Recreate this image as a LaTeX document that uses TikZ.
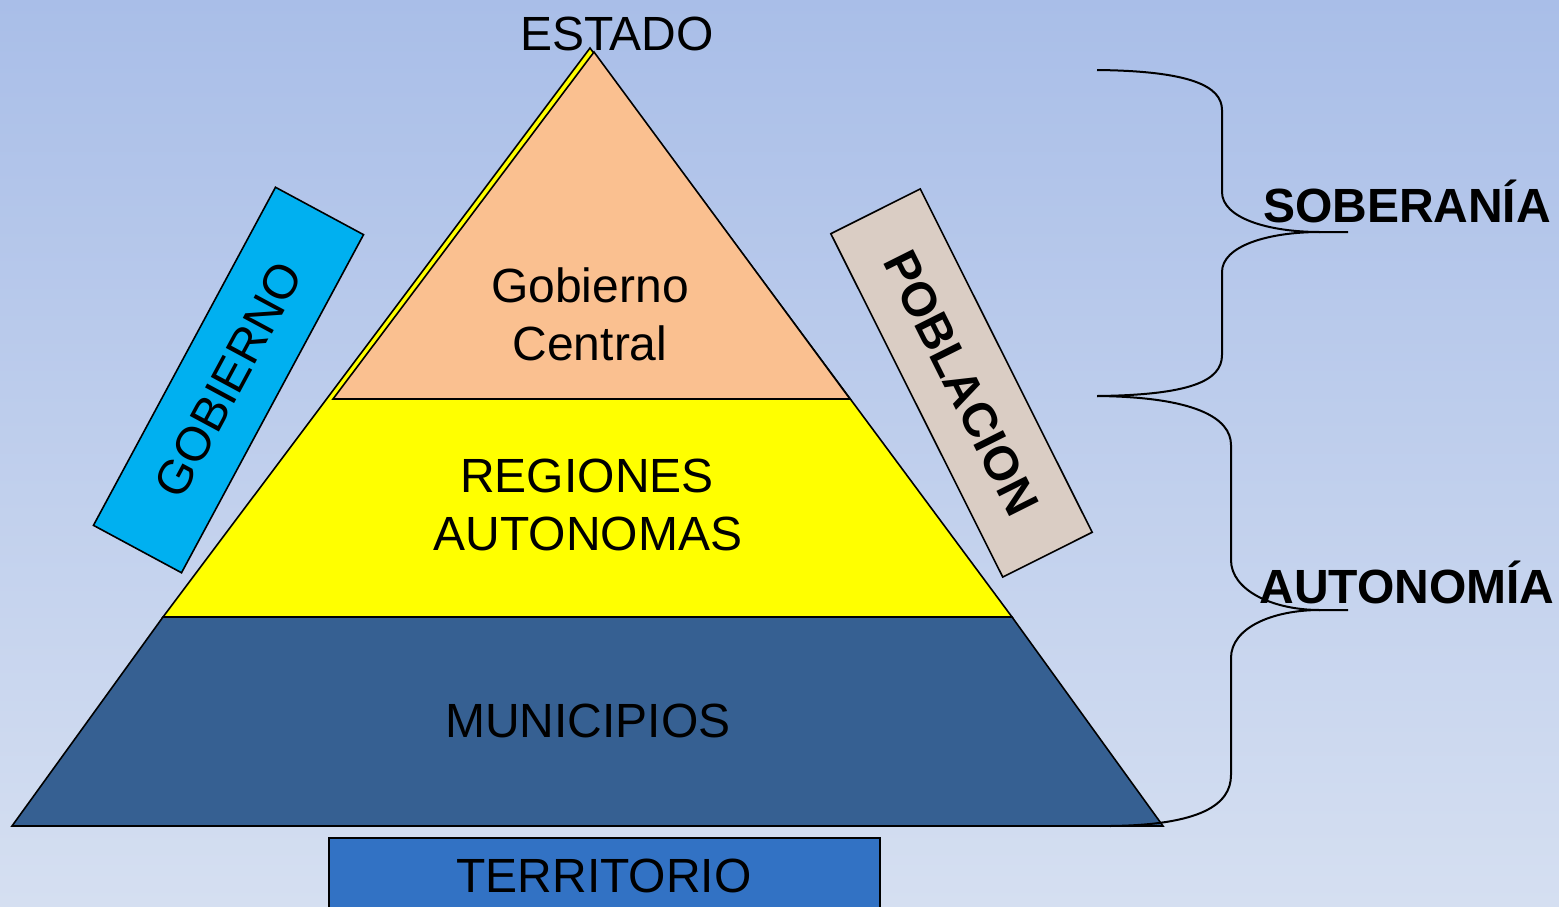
\documentclass[tikz,border=0pt]{standalone}
\usepackage{fontspec}
\setmainfont{Liberation Sans}
\definecolor{bgtop}{HTML}{A9BEE8}
\definecolor{bgbot}{HTML}{D5DFF1}
\definecolor{peach}{HTML}{FAC090}
\definecolor{muniblue}{HTML}{366092}
\definecolor{terrblue}{HTML}{3272C4}
\definecolor{gobblue}{HTML}{00B0F0}
\definecolor{pobgray}{HTML}{DACDC4}
\definecolor{yel}{HTML}{FFFF00}
\begin{document}
\begin{tikzpicture}[x=0.5pt,y=-0.5pt,
  lbl/.style={font=\fontsize{24}{28}\selectfont, inner sep=0pt, anchor=base},
  boldlbl/.style={lbl, font=\fontsize{24}{28}\selectfont\bfseries},
  shapeline/.style={draw=black, line width=0.8pt, line join=miter},
  tiltbox/.style={shapeline, inner sep=0pt, minimum width=192pt, minimum height=50pt, font=\fontsize{24}{28}\selectfont},
  bracepath/.style={draw=black, line width=1pt}]
\useasboundingbox (0,0) rectangle (1559,906);
\shade[top color=bgtop, bottom color=bgbot] (0,0) rectangle (1559,906);

% pyramid
\filldraw[shapeline, fill=muniblue] (163,617) -- (1012,617) -- (1163,826) -- (12,826) -- cycle;
\filldraw[shapeline, fill=yel] (590,48) -- (1012,617) -- (163,617) -- cycle;
\filldraw[shapeline, fill=peach] (594,52) -- (850,399) -- (333,399) -- cycle;

% territorio box
\filldraw[shapeline, fill=terrblue] (329,838) rectangle (880,925);

% labels
\node[lbl] (estado) at (617,50) {ESTADO};
\node[lbl] (gob1) at (590,302) {Gobierno};
\node[lbl] (gob2) at (590,360) {Central};
\node[lbl] (reg1) at (587,492) {REGIONES};
\node[lbl] (reg2) at (588,550) {AUTONOMAS};
\node[lbl] (muni) at (588,737) {MUNICIPIOS};
\node[lbl] (terr) at (604,892) {TERRITORIO};

% tilted boxes
\node[tiltbox, fill=gobblue, rotate=61.7] (gobierno) at (228.5,380) {GOBIERNO};
\node[tiltbox, fill=pobgray, rotate=-63.4, font=\fontsize{24}{28}\selectfont\bfseries] (poblacion) at (961.5,383) {POBLACION};

% braces
\coordinate (b1top) at (1097,70);
\coordinate (b1tip) at (1320,232);
\coordinate (b1end) at (1348,232);
\coordinate (b1bot) at (1097,396);
\draw[bracepath] (b1top) .. controls (1190,71) and (1222,86) .. (1222,110)
  -- (1222,192) .. controls (1222,218) and (1268,232) .. (b1tip) -- (b1end);
\draw[bracepath] (b1tip) .. controls (1268,232) and (1222,246) .. (1222,272)
  -- (1222,355) .. controls (1222,381) and (1190,395) .. (b1bot);

\coordinate (b2top) at (1097,396);
\coordinate (b2tip) at (1320,610);
\coordinate (b2end) at (1348,610);
\coordinate (b2bot) at (1110,826);
\draw[bracepath] (b2top) .. controls (1195,397) and (1231,418) .. (1231,445)
  -- (1231,560) .. controls (1231,590) and (1272,610) .. (b2tip) -- (b2end);
\draw[bracepath] (b2tip) .. controls (1272,610) and (1231,628) .. (1231,658)
  -- (1231,775) .. controls (1231,805) and (1200,825) .. (b2bot);

\node[boldlbl] (soberania) at (1407,222) {SOBERANÍA};
\node[boldlbl] (autonomia) at (1407,603) {AUTONOMÍA};
\end{tikzpicture}
\end{document}
